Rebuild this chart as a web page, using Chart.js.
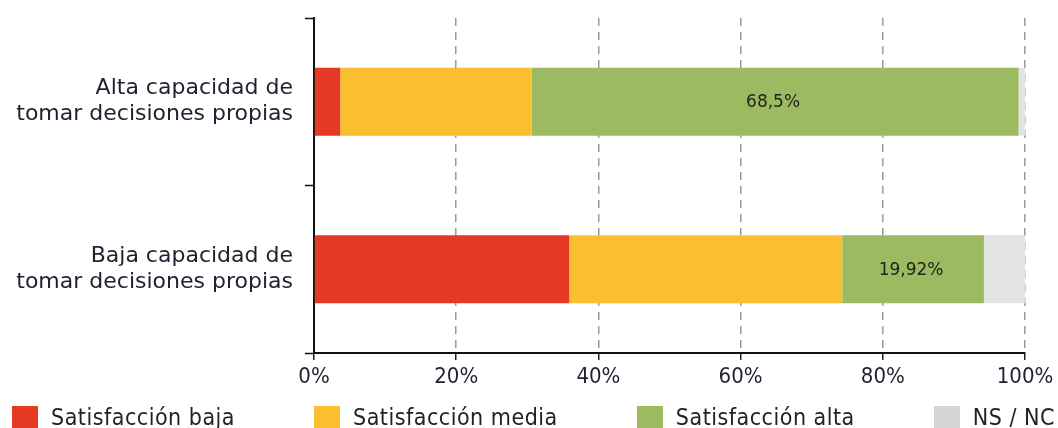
<!DOCTYPE html>
<html>
<head>
<meta charset="utf-8">
<script src="https://cdn.jsdelivr.net/npm/chart.js@4/dist/chart.umd.min.js"></script>
<style>
    body { margin: 0; background: #fff; }
    #wrap { position: relative; width: 1058px; height: 428px; overflow: hidden; }
    #legend {
        position: absolute; left: 12px; right: 3px; top: 405px; height: 24px;
        display: flex; justify-content: space-between; align-items: center;
        font-family: "DejaVu Sans Condensed", "Liberation Sans Narrow", sans-serif;
        font-size: 23px; letter-spacing: 0.5px; color: #222; white-space: nowrap;
    }
    #legend .item { display: flex; align-items: center; }
    #legend .box { width: 26px; height: 22px; margin-right: 13px; }
</style>
</head>
<body>
<div id="wrap">
    <canvas id="myChart" width="1058" height="428"></canvas>
    <div id="legend"></div>
</div>
<script>
let categories = [
    ["Alta capacidad de", "tomar decisiones propias"],
    ["Baja capacidad de", "tomar decisiones propias"]
];
let seriesNames = ["Satisfacción baja", "Satisfacción media", "Satisfacción alta", "NS / NC"];
let satisfaccionBaja = [3.7, 35.9];
let satisfaccionMedia = [26.9, 38.4];
let satisfaccionAlta = [68.5, 19.92];
let nsNc = [0.9, 5.78];
let tickLabels = ["0%", "20%", "40%", "60%", "80%", "100%"];

let barColors = ["#e43a24", "#f9bf2f", "#9cba5f", "#e3e3e3"];
let legendColors = ["#e43a24", "#f9bf2f", "#9cba5f", "#d4d4d4"];

let valueLabels = {
    id: 'valueLabels',
    afterDatasetsDraw(chart) {
        let ctx = chart.ctx;
        let meta = chart.getDatasetMeta(2);
        ctx.save();
        ctx.font = '17px "DejaVu Sans", sans-serif';
        ctx.fillStyle = '#222';
        ctx.textAlign = 'center';
        ctx.textBaseline = 'middle';
        meta.data.forEach(function (bar, i) {
            let txt = String(satisfaccionAlta[i]).replace('.', ',') + '%';
            let p = bar.getCenterPoint();
            ctx.fillText(txt, p.x - 2, p.y + 1);
        });
        ctx.restore();
    }
};

function chartInit() {
    let series = [satisfaccionBaja, satisfaccionMedia, satisfaccionAlta, nsNc];
    let ctx = document.getElementById("myChart").getContext('2d');
    let myChart = new Chart(ctx, {
        type: 'bar',
        data: {
            labels: categories,
            datasets: series.map(function (values, i) {
                return {
                    label: seriesNames[i],
                    data: values,
                    backgroundColor: barColors[i],
                    borderWidth: 0,
                    barPercentage: 0.405,
                    categoryPercentage: 1
                };
            })
        },
        options: {
            indexAxis: 'y',
            responsive: false,
            animation: false,
            layout: { padding: { top: 18, right: 33, bottom: 30, left: 0 } },
            plugins: {
                legend: { display: false },
                tooltip: { enabled: false }
            },
            scales: {
                x: {
                    stacked: true,
                    min: 0,
                    max: 100,
                    afterFit: function (scale) {
                        scale.height = 45;
                        scale.paddingLeft = 0;
                        scale.paddingRight = 0;
                    },
                    ticks: {
                        stepSize: 20,
                        padding: 4,
                        color: '#1e2230',
                        font: { family: '"DejaVu Sans Condensed", sans-serif', size: 22 },
                        callback: function (value, index) { return tickLabels[index]; }
                    },
                    grid: {
                        color: '#9a9a9a',
                        lineWidth: 1.5,
                        tickColor: '#222',
                        tickLength: 7,
                        tickWidth: 1.5
                    },
                    border: { color: '#111', width: 2, dash: [8, 6] }
                },
                y: {
                    stacked: true,
                    afterFit: function (scale) {
                        scale.width = 314;
                        scale.paddingTop = 0;
                        scale.paddingBottom = 0;
                    },
                    ticks: {
                        padding: 12,
                        color: '#1e2230',
                        font: { family: '"DejaVu Sans", sans-serif', size: 22, lineHeight: 1.18 }
                    },
                    grid: {
                        offset: true,
                        drawOnChartArea: false,
                        tickColor: '#111',
                        tickLength: 9,
                        tickWidth: 1.5
                    },
                    border: { color: '#111', width: 2 }
                }
            }
        },
        plugins: [valueLabels]
    });

    let legend = document.getElementById('legend');
    myChart.data.datasets.forEach(function (ds, i) {
        let item = document.createElement('div');
        item.className = 'item';
        item.innerHTML = '<span class="box" style="background:' + legendColors[i] + '"></span>' + ds.label;
        legend.appendChild(item);
    });
}

chartInit();
</script>
</body>
</html>
